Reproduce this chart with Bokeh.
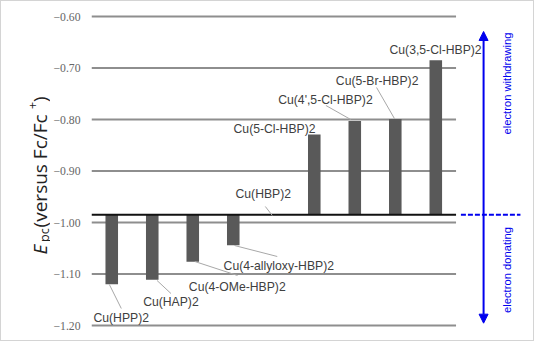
import math
from bokeh.plotting import figure
from bokeh.layouts import row
from bokeh.models import (Range1d, FixedTicker, CustomJSTickFormatter, ColumnDataSource,
                          Label, Arrow, NormalHead)
from bokeh.core.properties import value
from bokeh.embed import file_html
from bokeh.resources import INLINE

# ---------------- data ----------------
compounds = ["Cu(HPP)2", "Cu(HAP)2", "Cu(4-OMe-HBP)2", "Cu(4-allyloxy-HBP)2", "Cu(HBP)2",
             "Cu(5-Cl-HBP)2", "Cu(4',5-Cl-HBP)2", "Cu(5-Br-HBP)2", "Cu(3,5-Cl-HBP)2"]
epc = [-1.120, -1.111, -1.076, -1.044, -0.985, -0.829, -0.803, -0.799, -0.685]
reference_value = -0.985          # Cu(HBP)2, the bars' baseline
y_ticks = [-1.20, -1.10, -1.00, -0.90, -0.80, -0.70, -0.60]
side_labels = ["electron withdrawing", "electron donating"]
title_pieces = ["E", "pc", " (versus Fc/Fc", "+", ")"]

# ---------------- layout (label placement) ----------------
lab_x = [-0.451, 0.775, 1.903, 2.761, 3.056, 3.007, 4.110, 5.532, 6.857]
lab_y = [-1.1864, -1.1534, -1.1243, -1.0854, -0.9456, -0.8175, -0.7612, -0.7243, -0.6641]
lead_x0 = [-0.059, 1.118, 2.050, 3.031, 3.963, 5.900, 6.979]
lead_y0 = [-1.1204, -1.1126, -1.0757, -1.0447, -0.9864, -0.8000, -0.7981]
lead_x1 = [0.236, 1.462, 3.105, 4.086, 3.791, 5.287, 6.538]
lead_y1 = [-1.1670, -1.1379, -1.1029, -1.0660, -0.9689, -0.7728, -0.7379]

W, H = 532, 339
LW = 49                      # width of the title strip
FRAME_LEFT = 87              # frame left edge within the layout

# ---------------- title strip ----------------
t = figure(width=LW, height=H, output_backend="svg", toolbar_location=None,
           x_range=Range1d(0, LW), y_range=Range1d(H, 0),
           min_border=0)
t.axis.visible = False
t.grid.visible = False
t.outline_line_color = None
t.background_fill_color = "white"
t.border_fill_color = "white"
# positions in strip pixels: (x of baseline, y of start, size, style)
tp_pos = [(38.5, 253.0, "19px", "italic"),
          (42.5, 240.5, "12.5px", "normal"),
          (38.5, 225.9, "19px", "normal"),
          (30.5, 107.4, "12.5px", "normal"),
          (38.5, 100.4, "19px", "normal")]
for txt, (xx, yy, fs, st) in zip(title_pieces, tp_pos):
    t.add_layout(Label(x=xx, y=yy, text=txt, angle=math.pi / 2, text_align="left",
                       text_baseline="alphabetic", text_font="Open Sans", text_font_size=fs,
                       text_font_style=st, text_color="#222222"))

# ---------------- main chart ----------------
p = figure(width=W - LW, height=H, output_backend="svg", toolbar_location=None,
           x_range=Range1d(-0.5, -0.5 + (W - FRAME_LEFT) / 40.78),
           y_range=Range1d(-0.6 - 324 / 515.0, -0.6 + 15 / 515.0),
           min_border_left=FRAME_LEFT - LW, min_border_right=0, min_border_top=0,
           min_border_bottom=0)
p.outline_line_color = None
p.xaxis.visible = False
p.xgrid.visible = False
p.ygrid.visible = False
p.background_fill_color = "white"
p.border_fill_color = "white"

ax = p.yaxis[0]
ax.ticker = FixedTicker(ticks=y_ticks)
ax.formatter = CustomJSTickFormatter(code="return (tick < 0 ? '\u2212' : '') + Math.abs(tick).toFixed(2);")
ax.axis_line_color = None
ax.major_tick_line_color = None
ax.minor_tick_line_color = None
ax.major_tick_out = 0
ax.major_tick_in = 0
ax.major_label_standoff = 11
ax.major_label_text_font = "'Liberation Serif', 'Times New Roman', serif"
ax.major_label_text_font_size = "11.7px"
ax.major_label_text_color = "#666666"

n = len(compounds)
# gridlines
p.segment(x0=[-0.5] * len(y_ticks), x1=[n - 0.5] * len(y_ticks), y0=y_ticks, y1=y_ticks,
          line_color="#8e8e8e", line_width=1.8)

# bars
src = ColumnDataSource(dict(x=list(range(n)), top=epc, bottom=[reference_value] * n))
p.vbar(x="x", top="top", bottom="bottom", width=0.31, source=src,
       fill_color="#595959", line_color=None)

# baseline
p.segment(x0=[-0.5], x1=[n - 0.5], y0=[reference_value], y1=[reference_value],
          line_color="#111111", line_width=2)

# leader lines
p.segment(x0=lead_x0, y0=lead_y0, x1=lead_x1, y1=lead_y1, line_color="#a8a8a8", line_width=1)

# compound labels
p.text(x=lab_x, y=lab_y, text=compounds, text_font=value("Liberation Sans"),
       text_font_size="12.2px", text_color="#404040", text_align="left", text_baseline="middle")

# right-hand annotation
blue = "#0000ee"
p.segment(x0=[8.62], x1=[10.09], y0=[reference_value], y1=[reference_value],
          line_color=blue, line_width=2, line_dash="5 2")
p.add_layout(Arrow(start=NormalHead(size=9, fill_color=blue, line_color=blue),
                   end=NormalHead(size=9, fill_color=blue, line_color=blue),
                   x_start=9.18, y_start=-1.1955, x_end=9.18, y_end=-0.6291,
                   line_color=blue, line_width=2))
p.add_layout(Label(x=9.75, y=-0.730, text=side_labels[0], angle=math.pi / 2,
                   text_align="center", text_baseline="middle", text_color=blue,
                   text_font="Liberation Sans", text_font_size="11.2px"))
p.add_layout(Label(x=9.75, y=-1.0922, text=side_labels[1], angle=math.pi / 2,
                   text_align="center", text_baseline="middle", text_color=blue,
                   text_font="Liberation Sans", text_font_size="11.2px"))

layout = row(t, p, spacing=0, styles={"border": "1px solid #d4d4d4"})

open("out.html", "w", encoding="utf-8").write(file_html(layout, INLINE))
